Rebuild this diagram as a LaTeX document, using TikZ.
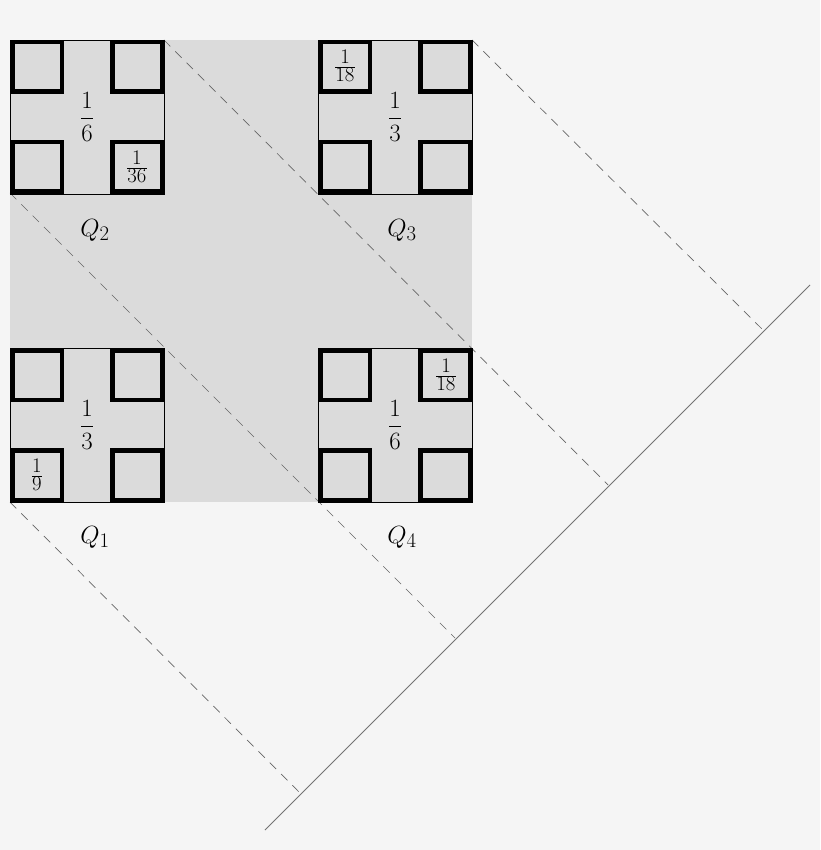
\documentclass[tikz,border=0pt]{standalone}
\begin{document}
\begin{tikzpicture}[x=1pt,y=-1pt,
  bg/.style={fill=black!14},
  small/.style={draw=black,line width=4.5pt,fill=black!14},
  sub/.style={draw=black,line width=0.6pt,fill=black!14},
  dsh/.style={draw=black!60,dashed,dash pattern=on 9pt off 7pt,line width=0.7pt},
  big/.style={font=\fontsize{28}{34}\selectfont,inner sep=0pt},
  lab/.style={font=\fontsize{28}{34}\selectfont}]
\fill[black!4] (0,0) rectangle (820,850);
\useasboundingbox (0,0) rectangle (820,850);
\fill[bg] (10,40) rectangle (472,502);
\coordinate (p1) at (763,330);
\coordinate (p2) at (608,485);
\coordinate (p3) at (455,638);
\coordinate (p4) at (300,793);
\coordinate (s1) at (810,285);
\coordinate (s2) at (265,830);
\draw[black!55,line width=0.8pt] (s1) -- (s2);
\coordinate (c1) at (472,40);
\coordinate (c2) at (164,40);
\coordinate (c3) at (10,193);
\coordinate (c4) at (10,502);
\draw[dsh] (c1) -- (p1);
\draw[dsh] (c2) -- (p2);
\draw[dsh] (c3) -- (p3);
\draw[dsh] (c4) -- (p4);
\foreach \x/\y/\n in {10/40/a,318/40/b,10/348/c,318/348/d}{
  \draw[sub] (\x,\y) rectangle ++(154,154);
  \foreach \dx/\dy in {0/0,100/0,0/100,100/100}{
    \draw[small] (\x+\dx+2.25,\y+\dy+2.25) rectangle ++(49.5,49.5);
  }
}
\node[big] (f2) at (87,117) {$\displaystyle\frac{1}{6}$};
\node[big] (f3) at (395,117) {$\displaystyle\frac{1}{3}$};
\node[big] (f1) at (87,425) {$\displaystyle\frac{1}{3}$};
\node[big] (f4) at (395,425) {$\displaystyle\frac{1}{6}$};
\node[big] (s36) at (137,167) {$\frac{1}{36}$};
\node[big] (s18a) at (345,66) {$\frac{1}{18}$};
\node[big] (s18b) at (446,375) {$\frac{1}{18}$};
\node[big] (s9) at (37,475) {$\frac{1}{9}$};
\node[lab] (q2) at (95,230) {$Q_2$};
\node[lab] (q3) at (402,230) {$Q_3$};
\node[lab] (q1) at (95,537) {$Q_1$};
\node[lab] (q4) at (402,537) {$Q_4$};
\end{tikzpicture}
\end{document}
